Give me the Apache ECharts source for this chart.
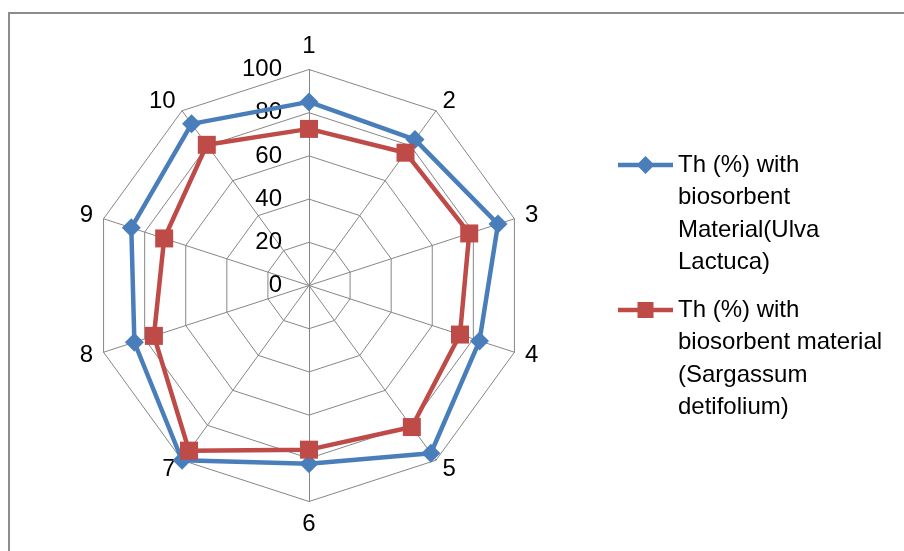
<!DOCTYPE html>
<html>
<head>
<meta charset="utf-8">
<script src="https://cdn.jsdelivr.net/npm/echarts@6/dist/echarts.min.js"></script>
<style>
  html, body { margin: 0; padding: 0; background: #fff; overflow: hidden; }
  #wrap { position: relative; width: 904px; height: 551px; overflow: hidden; background: #fff; }
  #frame { position: absolute; left: 8px; top: 12px; width: 2000px; height: 2000px; border: 2px solid #8c8c8c; box-sizing: border-box; }
  #chart { position: absolute; left: 0; top: 0; width: 904px; height: 551px; }
</style>
</head>
<body>
<div id="wrap">
  <div id="frame"></div>
  <div id="chart"></div>
</div>
<script>
// Sample numbers around the radar (clockwise from the top)
const categories = ['1', '2', '3', '4', '5', '6', '7', '8', '9', '10'];
// Th (%) removal for each biosorbent
const ulvaValues = [85, 83.5, 92, 83, 96, 82.5, 100, 85, 86.5, 92.5];
const sargassumValues = [72.5, 76, 78, 73.5, 81, 76, 94.5, 75.5, 70.5, 80.5];
// Series names, wrapped the way the legend shows them
const seriesNames = [
  'Th (%) with\nbiosorbent\nMaterial(Ulva\nLactuca)',
  'Th (%) with\nbiosorbent material\n(Sargassum\ndetifolium)'
];
// Radial scale
const scaleMin = 0;
const scaleMax = 100;
const scaleStep = 20;

const FONT = '"Liberation Sans", Arial, sans-serif';
const GRID = '#868686';
const BLUE = '#4A7EBB';
const RED = '#BE4B48';
const CX = 309, CY = 285.5, R = 216;
const LINE_H = 32.5;
const LINES = 4;
const ICON_W = 55;
const ICON_H = LINE_H * LINES;

// ECharts radar runs counter-clockwise; feed the axes in reverse so they read clockwise
const order = categories.map((_, i) => (categories.length - i) % categories.length);
const pick = arr => order.map(i => arr[i]);

// Legend icons: a line with the series marker, centred on the first text line
function iconPath(kind) {
  const cy = LINE_H / 2, cx = ICON_W / 2, lw = 4.5, h = lw / 2, s = 9;
  let p = `M0 0 M${ICON_W} ${ICON_H} `;
  if (kind === 'diamond') {
    const dx = s * (1 - h / s);
    p += `M0 ${cy - h} H${cx - dx} L${cx} ${cy - s} L${cx + dx} ${cy - h} H${ICON_W} V${cy + h} ` +
         `H${cx + dx} L${cx} ${cy + s} L${cx - dx} ${cy + h} H0 Z`;
  } else {
    const q = 8;
    p += `M0 ${cy - h} H${cx - q} V${cy - q} H${cx + q} V${cy - h} H${ICON_W} V${cy + h} ` +
         `H${cx + q} V${cy + q} H${cx - q} V${cy + h} H0 Z`;
  }
  return 'path://' + p;
}

const chart = echarts.init(document.getElementById('chart'), null, { renderer: 'canvas' });

chart.setOption({
  animation: false,
  backgroundColor: 'transparent',
  legend: {
    orient: 'vertical',
    left: 618,
    top: 165 - LINE_H / 2,
    padding: 0,
    itemGap: 145 - ICON_H,
    itemWidth: ICON_W,
    itemHeight: ICON_H,
    selectedMode: false,
    data: [
      { name: seriesNames[0], icon: iconPath('diamond') },
      { name: seriesNames[1], icon: iconPath('rect') }
    ],
    textStyle: {
      fontFamily: FONT,
      fontSize: 24,
      color: '#000',
      lineHeight: LINE_H
    }
  },
  radar: {
    center: [CX, CY],
    radius: R,
    startAngle: 90,
    shape: 'polygon',
    splitNumber: (scaleMax - scaleMin) / scaleStep,
    indicator: pick(categories).map(c => ({ name: c, min: scaleMin, max: scaleMax })),
    axisName: { color: '#000', fontFamily: FONT, fontSize: 24 },
    nameGap: 11,
    axisLine: { lineStyle: { color: GRID, width: 1 } },
    splitLine: { lineStyle: { color: GRID, width: 1 } },
    splitArea: { show: false },
    axisTick: { show: false },
    axisLabel: { show: false }
  },
  polar: { center: [CX, CY], radius: R },
  angleAxis: { show: false, startAngle: 90, min: 0, max: 360 },
  radiusAxis: {
    min: scaleMin,
    max: scaleMax,
    interval: scaleStep,
    axisLine: { show: false },
    axisTick: { show: false },
    splitLine: { show: false },
    axisLabel: {
      show: true,
      fontFamily: FONT,
      fontSize: 24,
      color: '#000',
      margin: 27
    }
  },
  series: [
    {
      type: 'radar',
      name: seriesNames[0],
      symbol: 'diamond',
      symbolSize: 19,
      itemStyle: { color: BLUE },
      lineStyle: { color: BLUE, width: 4.5 },
      data: [{ value: pick(ulvaValues), name: seriesNames[0] }]
    },
    {
      type: 'radar',
      name: seriesNames[1],
      symbol: 'rect',
      symbolSize: 18,
      itemStyle: { color: RED },
      lineStyle: { color: RED, width: 4.5 },
      data: [{ value: pick(sargassumValues), name: seriesNames[1] }]
    }
  ]
});
</script>
</body>
</html>
